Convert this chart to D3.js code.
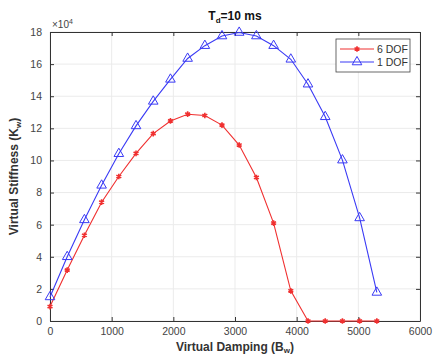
<!DOCTYPE html>
<html>
<head>
<meta charset="utf-8">
<script src="https://cdn.jsdelivr.net/npm/d3@7"></script>
<style>
  body { margin: 0; background: #fff; }
  text { font-family: "Liberation Sans", Arial, sans-serif; }
</style>
</head>
<body>
<div id="chart"></div>
<script>
// damping values (B_w)
const damping = [0, 279, 558, 837, 1116, 1395, 1674, 1953, 2232, 2511,
  2789, 3068, 3347, 3626, 3905, 4184, 4463, 4742, 5021, 5300];
// stiffness, units of 1e4
const stiff6dof = [0.9, 3.17, 5.34, 7.4, 9.0, 10.44, 11.67, 12.46, 12.88, 12.8,
  12.2, 10.96, 8.94, 6.1, 1.88, 0, 0, 0, 0, 0];
const stiff1dof = [1.5, 4.0, 6.3, 8.45, 10.42, 12.15, 13.68, 15.05, 16.35, 17.15,
  17.75, 17.97, 17.75, 17.15, 16.3, 14.75, 12.72, 10.02, 6.42, 1.78];
const xTicks = [0, 1000, 2000, 3000, 4000, 5000, 6000];
const yTicks = [0, 2, 4, 6, 8, 10, 12, 14, 16, 18];
const seriesNames = ["6 DOF", "1 DOF"];

const width = 433, height = 356;
const margin = {top: 32, right: 13, bottom: 35, left: 50};
const w = width - margin.left - margin.right;
const h = height - margin.top - margin.bottom;

const svg = d3.select("#chart").append("svg")
  .attr("width", width)
  .attr("height", height);

const g = svg.append("g")
  .attr("transform", "translate(" + margin.left + "," + margin.top + ")");

const x = d3.scaleLinear().domain([0, 6000]).range([0, w]);
const y = d3.scaleLinear().domain([0, 18]).range([h, 0]);

// grid
g.append("g").selectAll("line").data(xTicks).enter().append("line")
  .attr("x1", d => x(d)).attr("x2", d => x(d))
  .attr("y1", 0).attr("y2", h)
  .attr("stroke", "#ebebeb");
g.append("g").selectAll("line").data(yTicks).enter().append("line")
  .attr("y1", d => y(d)).attr("y2", d => y(d))
  .attr("x1", 0).attr("x2", w)
  .attr("stroke", "#ebebeb");

// axes
const styleAxis = sel => {
  sel.select(".domain").attr("stroke", "#333");
  sel.selectAll(".tick line").attr("stroke", "#333");
  sel.selectAll(".tick text").attr("fill", "#444").style("font-size", "10.5px");
};
g.append("g").attr("transform", "translate(0," + h + ")")
  .call(d3.axisBottom(x).tickValues(xTicks).tickFormat(d3.format("d"))
    .tickSizeInner(-4).tickSizeOuter(0).tickPadding(7))
  .call(styleAxis);
g.append("g")
  .call(d3.axisLeft(y).tickValues(yTicks).tickFormat(d3.format("d"))
    .tickSizeInner(-4).tickSizeOuter(0).tickPadding(8))
  .call(styleAxis);
g.append("g")
  .call(d3.axisTop(x).tickValues(xTicks).tickSizeInner(-4).tickSizeOuter(0).tickFormat(""))
  .call(styleAxis);
g.append("g").attr("transform", "translate(" + w + ",0)")
  .call(d3.axisRight(y).tickValues(yTicks).tickSizeInner(-4).tickSizeOuter(0).tickFormat(""))
  .call(styleAxis);

// exponent label
const ex = g.append("text").attr("x", 2).attr("y", -4)
  .attr("fill", "#444").style("font-size", "10px").text("\u00d710");
ex.append("tspan").attr("dy", -4).style("font-size", "7px").text("4");

// lines
const line = vals => d3.line()
  .x((d, i) => x(damping[i]))
  .y(d => y(d))(vals);

const red = "#f03030", blue = "#3a3af5";

g.append("path").attr("d", line(stiff6dof))
  .attr("fill", "none").attr("stroke", red).attr("stroke-width", 1.1);
g.append("path").attr("d", line(stiff1dof))
  .attr("fill", "none").attr("stroke", blue).attr("stroke-width", 1.1);

const star = d3.symbol().type(d3.symbolAsterisk).size(22);
const tri = d3.symbol().type(d3.symbolTriangle).size(40);

g.append("g").selectAll("path").data(stiff6dof).enter().append("path")
  .attr("d", star)
  .attr("transform", (d, i) => "translate(" + x(damping[i]) + "," + y(d) + ")")
  .attr("fill", "none").attr("stroke", red).attr("stroke-width", 1.6);
g.append("g").selectAll("path").data(stiff1dof).enter().append("path")
  .attr("d", tri)
  .attr("transform", (d, i) => "translate(" + x(damping[i]) + "," + y(d) + ")")
  .attr("fill", "none").attr("stroke", blue).attr("stroke-width", 1);

// legend
const lg = g.append("g").attr("transform", "translate(" + (w - 84) + ",7)");
lg.append("rect").attr("width", 74).attr("height", 33)
  .attr("fill", "#fff").attr("stroke", "#444").attr("stroke-width", 0.8);
[red, blue].forEach((c, i) => {
  const row = lg.append("g").attr("transform", "translate(0," + (10 + i * 13) + ")");
  row.append("line").attr("x1", 4).attr("x2", 38).attr("stroke", c).attr("stroke-width", 1.1);
  row.append("path").attr("d", i === 0 ? star : tri).attr("transform", "translate(21,0)")
    .attr("fill", "none").attr("stroke", c).attr("stroke-width", i === 0 ? 1.6 : 1);
  row.append("text").attr("x", 41).attr("y", 4).attr("fill", "#333")
    .style("font-size", "10.5px").text(seriesNames[i]);
});

// title
const t = svg.append("text").attr("x", margin.left + w / 2).attr("y", 20)
  .attr("text-anchor", "middle").style("font-size", "12px").style("font-weight", "bold")
  .attr("fill", "#111").text("T");
t.append("tspan").attr("dy", 3).style("font-size", "8px").text("d");
t.append("tspan").attr("dy", -3).text("=10 ms");

// axis labels
const xl = svg.append("text").attr("x", margin.left + w / 2).attr("y", 351)
  .attr("text-anchor", "middle").style("font-size", "12px").style("font-weight", "bold")
  .attr("fill", "#333").text("Virtual Damping (B");
xl.append("tspan").attr("dy", 2).style("font-size", "8px").text("w");
xl.append("tspan").attr("dy", -2).text(")");

const yl = svg.append("text")
  .attr("transform", "translate(18," + (margin.top + h / 2) + ") rotate(-90)")
  .attr("text-anchor", "middle").style("font-size", "12px").style("font-weight", "bold")
  .attr("fill", "#333").text("Virtual Stiffness (K");
yl.append("tspan").attr("dy", 3).style("font-size", "8px").text("w");
yl.append("tspan").attr("dy", -3).text(")");
</script>
</body>
</html>
